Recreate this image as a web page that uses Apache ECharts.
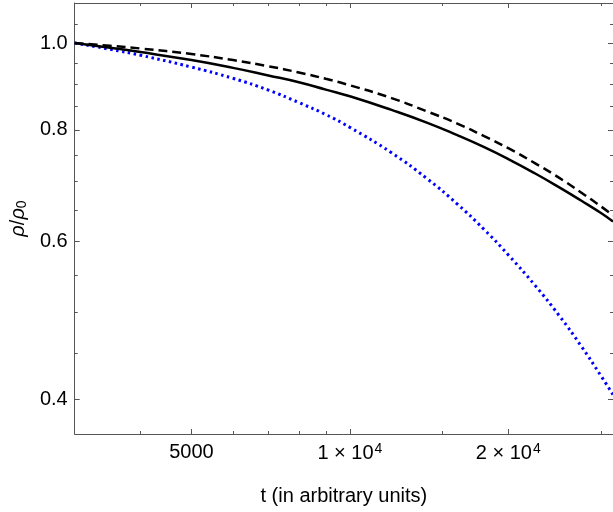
<!DOCTYPE html>
<html>
<head>
<meta charset="utf-8">
<script src="https://cdn.jsdelivr.net/npm/echarts@6/dist/echarts.min.js"></script>
<style>
html,body{margin:0;padding:0;background:#fff;}
#chart{width:613px;height:512px;}
</style>
</head>
<body>
<div id="chart"></div>
<script>
// ---- data ----
const times  = [3000, 3500, 4000, 5000, 6000, 7000, 8000, 9000, 10000, 12000, 14000, 16000, 18000, 20000, 22500, 25000, 27500, 30000, 31623];
const solid  = [1.000, 0.988, 0.977, 0.957, 0.938, 0.920, 0.904, 0.887, 0.872, 0.842, 0.815, 0.789, 0.765, 0.742, 0.715, 0.690, 0.667, 0.646, 0.632];
const dashed = [1.000, 0.993, 0.986, 0.972, 0.957, 0.942, 0.927, 0.912, 0.897, 0.868, 0.839, 0.813, 0.787, 0.763, 0.734, 0.707, 0.681, 0.657, 0.642];
const dotted = [1.000, 0.984, 0.969, 0.940, 0.913, 0.886, 0.858, 0.832, 0.805, 0.754, 0.706, 0.661, 0.619, 0.580, 0.536, 0.496, 0.459, 0.425, 0.405];

const xMin = 3000, xMax = 31623;
const yMin = 0.366, yMax = 1.1083;

const xTicksMajor = [5000, 10000, 20000];
const xTickLabels = ['5000', '1 \u00d7 10{sup|4}', '2 \u00d7 10{sup|4}'];
const xTicksMinor = [4000, 6000, 7000, 8000, 9000, 15000, 30000];
const yTicksMajor = [0.4, 0.6, 0.8, 1.0];
const yTickLabels = ['0.4', '0.6', '0.8', '1.0'];
const yTicksMinor = [0.45, 0.5, 0.55, 0.65, 0.7, 0.75, 0.85, 0.9, 0.95, 1.05];

const xName = 't (in arbitrary units)';
const yName = '{i|\u03c1}/{i|\u03c1}{sub|0}';

// ---- chart ----
const L = Math.log10;
const FONT = '"Liberation Sans", Arial, sans-serif';
const AX = '#555';

function pairs(ys) { return times.map((t, i) => [t, ys[i]]); }
function findIdx(list, v) { return list.findIndex(t => Math.abs(L(t) - v) < 1e-6); }

function tickAxis(kind, pos, major, withLabels) {
  const isX = kind === 'x';
  const vals = (isX ? (major ? xTicksMajor : xTicksMinor) : (major ? yTicksMajor : yTicksMinor)).map(L);
  const a = {
    type: 'value',
    gridIndex: 0,
    position: pos,
    min: isX ? L(xMin) : L(yMin),
    max: isX ? L(xMax) : L(yMax),
    axisLine: { show: major, onZero: false, lineStyle: { color: AX, width: 1 } },
    axisTick: { show: true, inside: true, length: major ? 5 : 3, customValues: vals, lineStyle: { color: AX, width: 1 } },
    axisLabel: { show: false },
    splitLine: { show: false },
    minorTick: { show: false }
  };
  if (withLabels) {
    a.axisLabel = {
      show: true,
      customValues: vals,
      color: '#000',
      fontFamily: FONT,
      fontSize: 20,
      margin: isX ? 8 : 7,
      formatter: function (v) {
        if (isX) { const i = findIdx(xTicksMajor, v); return i >= 0 ? xTickLabels[i] : ''; }
        const i = findIdx(yTicksMajor, v); return i >= 0 ? yTickLabels[i] : '';
      },
      rich: {
        sup: { fontSize: 14, fontFamily: FONT, color: '#000', verticalAlign: 'bottom', padding: [0, 0, 9, 1] }
      }
    };
  }
  return a;
}

const xBottomMajor = tickAxis('x', 'bottom', true, true);
xBottomMajor.name = xName;
xBottomMajor.nameLocation = 'middle';
xBottomMajor.nameGap = 52;
xBottomMajor.nameTextStyle = { fontFamily: FONT, fontSize: 20, color: '#000' };

const yLeftMajor = tickAxis('y', 'left', true, true);
yLeftMajor.name = yName;
yLeftMajor.nameLocation = 'middle';
yLeftMajor.nameGap = 45;
yLeftMajor.nameRotate = 90;
yLeftMajor.nameTextStyle = {
  fontFamily: FONT, fontSize: 20, color: '#000',
  rich: {
    i: { fontFamily: FONT, fontSize: 20, fontStyle: 'italic', color: '#000' },
    sub: { fontFamily: FONT, fontSize: 14, color: '#000', verticalAlign: 'top', padding: [8, 0, 0, 0] }
  }
};

const chart = echarts.init(document.getElementById('chart'), null, { renderer: 'canvas' });
chart.setOption({
  animation: false,
  backgroundColor: '#fff',
  grid: { left: 73, top: 3, width: 540, height: 431, containLabel: false },
  xAxis: [
    { type: 'log', logBase: 10, min: xMin, max: xMax, show: false, gridIndex: 0 },
    xBottomMajor,
    tickAxis('x', 'bottom', false, false),
    tickAxis('x', 'top', true, false),
    tickAxis('x', 'top', false, false)
  ],
  yAxis: [
    { type: 'log', logBase: 10, min: yMin, max: yMax, show: false, gridIndex: 0 },
    yLeftMajor,
    tickAxis('y', 'left', false, false),
    tickAxis('y', 'right', true, false),
    tickAxis('y', 'right', false, false)
  ],
  series: [
    { type: 'line', name: 'dotted', xAxisIndex: 0, yAxisIndex: 0, data: pairs(dotted), smooth: true, symbol: 'none',
      lineStyle: { color: '#0000ff', width: 3, type: [2.5, 3.5] } },
    { type: 'line', name: 'dashed', xAxisIndex: 0, yAxisIndex: 0, data: pairs(dashed), smooth: true, symbol: 'none',
      lineStyle: { color: '#000', width: 2.5, type: [9, 5] } },
    { type: 'line', name: 'solid', xAxisIndex: 0, yAxisIndex: 0, data: pairs(solid), smooth: true, symbol: 'none',
      lineStyle: { color: '#000', width: 2.5, type: 'solid' } }
  ]
});
</script>
</body>
</html>
